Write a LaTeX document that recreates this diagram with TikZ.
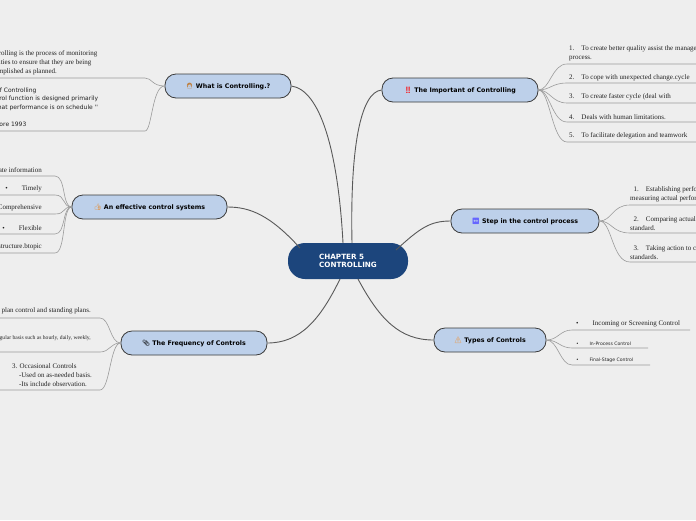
\documentclass[tikz,border=0pt]{standalone}
\usepackage{fontspec}
\setmainfont{Liberation Serif}
\newfontfamily\vsans{DejaVu Sans}
\newfontfamily\emo{Noto Emoji}
\definecolor{bg}{HTML}{EEEEEE}
\definecolor{tfill}{HTML}{BDD0EA}
\definecolor{tline}{HTML}{3A3A3A}
\definecolor{cfill}{HTML}{1C457C}
\definecolor{sub}{HTML}{9A9A9A}
\definecolor{txt}{HTML}{222222}
\tikzset{
 topic/.style={draw=tline,fill=tfill,rounded corners=11pt,line width=0.8pt,minimum height=24pt,inner xsep=6pt,font=\vsans\bfseries\fontsize{6.3}{7}\selectfont,text=black},
 center/.style={fill=cfill,rounded corners=17pt,minimum height=36pt,minimum width=120pt,text=white,font=\vsans\bfseries\fontsize{7.2}{8.5}\selectfont,align=left},
 conn/.style={draw=tline!85,line width=0.9pt},
 sline/.style={draw=sub,line width=0.6pt},
 ser/.style={inner sep=0pt,font=\fontsize{7}{9}\selectfont,text=txt,align=left},
 sans/.style={inner sep=0pt,font=\vsans\fontsize{6}{8.6}\selectfont,text=txt,align=left},
 tiny/.style={inner sep=0pt,font=\vsans\fontsize{4.6}{6}\selectfont,text=txt,align=left}
}
\begin{document}
\begin{tikzpicture}[x=1pt,y=-1pt]
\useasboundingbox[fill=bg] (0,0) rectangle (696,520);
% centre
\node[center] (c) at (348,261) {CHAPTER 5\\CONTROLLING};
% topics
\node[topic,minimum width=126pt] (w) at (228,86) {{\emo\textcolor{brown}{👩}}\ What is Controlling.?};
\node[topic,minimum width=156pt] (i) at (460,90) {{\emo\textcolor{red}{‼}}\ The Important of Controlling};
\node[topic,minimum width=155pt] (e) at (149.5,207) {{\emo\textcolor{orange!70!brown}{👍}}\ An effective control systems};
\node[topic,minimum width=148pt] (s) at (525,221) {{\emo\textcolor{blue!60}{↔}}\ Step in the control process};
\node[topic,minimum width=146pt] (f) at (194,343) {{\emo 📎}\ The Frequency of Controls};
\node[topic,minimum width=112pt] (t) at (490,340) {{\emo\textcolor{orange}{⚠}}\ Types of Controls};
% centre connectors
\coordinate (cw) at (343,243); \coordinate (ci) at (352,243);
\coordinate (ce) at (300,248); \coordinate (cs) at (396,250);
\coordinate (cf) at (340,279); \coordinate (ct) at (358,279);
\draw[conn] (cw) .. controls (338,150) and (320,90) .. (w.east);
\draw[conn] (ci) .. controls (350,150) and (360,92) .. (i.west);
\draw[conn] (ce) .. controls (270,215) and (250,207) .. (e.east);
\draw[conn] (cs) .. controls (420,228) and (430,221) .. (s.west);
\draw[conn] (cf) .. controls (320,320) and (300,343) .. (f.east);
\draw[conn] (ct) .. controls (380,320) and (400,340) .. (t.west);
% Important items
\foreach \y/\x in {64/696,83/696,103/696,122/697,142/696}{
 \coordinate (a) at (567,\y);
 \draw[sline] (i.east) .. controls (550,90) and (552,\y) .. (a) -- (\x,\y);}
\node[ser,anchor=south west] (i1) at (569,61.5) {1.\quad To create better quality assist the management process.\\process.};
\node[ser,anchor=south west] (i2) at (569,81) {2.\quad To cope with unexpected change.cycle};
\node[ser,anchor=south west] (i3) at (569,100.5) {3.\quad To create faster cycle (deal with};
\node[ser,anchor=south west] (i4) at (569,120) {4.\quad Deals with human limitations.};
\node[ser,anchor=south west] (i5) at (569,139.5) {5.\quad To facilitate delegation and teamwork};
% What is items
\foreach \y in {78,131}{
 \draw[sline] (w.west) .. controls (152,86) and (152,\y) .. (145,\y) -- (0,\y);}
\node[ser,anchor=south west] (w1) at (-15,75) {Controlling is the process of monitoring\\activities to ensure that they are being\\accomplished as planned.};
\node[sans,anchor=south west] (w2) at (-35,128) {Definition of Controlling\\`` The control function is designed primarily\\to ensure that performance is on schedule ''\\\\By Roguemore 1993};
% Effective items
\foreach \y/\xe in {176/55,195/55,214/55,234/55,253/55}{
 \draw[sline] (e.west) .. controls (62,207) and (66,\y) .. (\xe,\y) -- (0,\y);}
\node[ser,anchor=south east] at (42,173) {Accurate information};
\node[ser,anchor=south east] at (42,192) {\textbullet\qquad Timely};
\node[ser,anchor=south east] at (42,211) {Comprehensive};
\node[ser,anchor=south east] at (42,231) {\textbullet\qquad Flexible};
\node[ser,anchor=south east] at (42,250) {Organization structure.btopic};
% Step items
\foreach \y in {205,233,262}{
 \draw[sline] (s.east) .. controls (612,221) and (612,\y) .. (630,\y) -- (696,\y);}
\node[ser,anchor=south west] at (630,202.5) {\ \ 1.\quad Establishing performance standards and\\measuring actual performance.};
\node[ser,anchor=south west] at (630,230.5) {\ \ 2.\quad Comparing actual performance with\\standard.};
\node[ser,anchor=south west] at (630,259.5) {\ \ 3.\quad Taking action to correct deviation\\standards.};
% Types items
\draw[sline] (t.east) .. controls (558,340) and (560,330) .. (572,330) -- (690,330);
\draw[sline] (t.east) .. controls (558,340) and (560,348) .. (572,348) -- (648,348);
\draw[sline] (t.east) .. controls (558,340) and (560,365) .. (572,365) -- (650,365);
\node[ser,anchor=south west] at (576,327.5) {\textbullet\qquad Incoming or Screening Control};
\node[tiny,anchor=south west] at (576,346) {\textbullet\qquad\ In-Process Control};
\node[tiny,anchor=south west] at (576,363) {\textbullet\qquad\ Final-Stage Control};
% Frequency items
\foreach \y/\xe in {318/100,352/100,390/100}{
 \draw[sline] (f.west) .. controls (110,343) and (110,\y) .. (\xe,\y) -- (0,\y);}
\node[ser,anchor=south east] at (91,314) {1. Constant Controls -Used plan control and standing plans.};
\node[ser,anchor=south east,font=\fontsize{5.6}{7}\selectfont] at (91,341) {2. Periodic Controls -Used on regular basis such as hourly, daily, weekly,};
\node[ser,anchor=south east] at (92,387) {3. Occasional Controls\\\quad -Used on as-needed basis.\\\quad -Its include observation.};
\end{tikzpicture}
\end{document}
